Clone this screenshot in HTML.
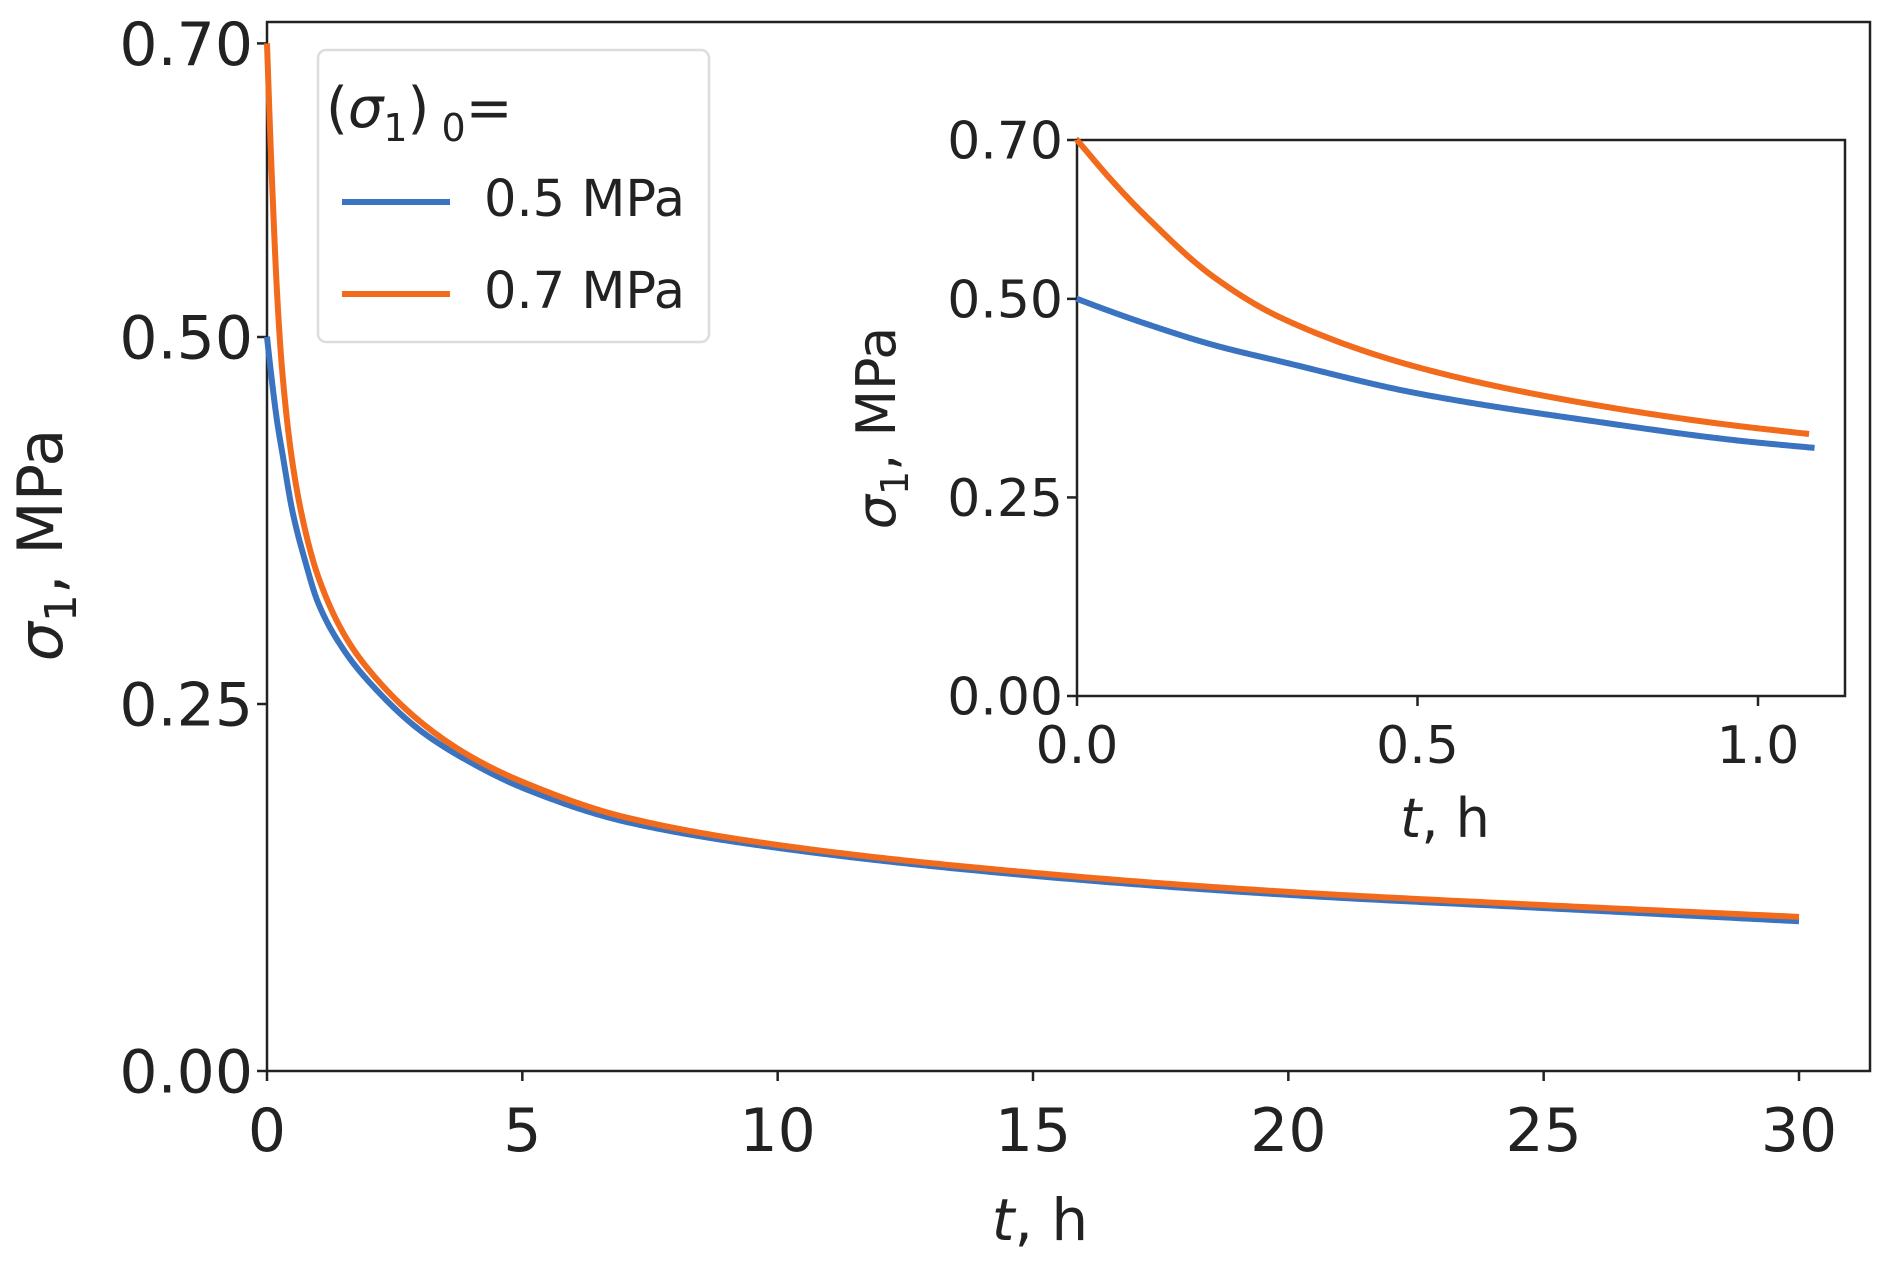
<!DOCTYPE html>
<html><head><meta charset="utf-8"><style>
html,body{margin:0;padding:0;background:#fff;}
svg text{font-family:"DejaVu Sans","Liberation Sans",sans-serif;fill:#222;}
</style></head><body>
<svg id="chart" width="1892" height="1272" viewBox="0 0 1892 1272" xmlns="http://www.w3.org/2000/svg">
<g id="main"></g>
<g id="inset"></g>
<g id="legend">
 <rect x="318" y="50" width="391" height="292" rx="8" fill="#fff" stroke="#ddd" stroke-width="2.5"/>
 <text x="326" y="127" font-size="56">(<tspan font-style="italic">σ</tspan><tspan font-size="38" dy="14">1</tspan><tspan dy="-14">)</tspan><tspan font-size="38" dy="14"> 0</tspan><tspan dy="-14">=</tspan></text>
 <line x1="342" y1="202" x2="450" y2="202" stroke="#3a73c0" stroke-width="6"/>
 <text x="484" y="216" font-size="51">0.5 MPa</text>
 <line x1="342" y1="294" x2="450" y2="294" stroke="#f26a1b" stroke-width="6"/>
 <text x="484" y="308" font-size="51">0.7 MPa</text>
</g>
</svg>
<script>
const tMain=[0,0.05,0.1,0.2,0.3,0.5,0.75,1,1.5,2,3,4,5,7,10,15,20,25,30];
const blue=[0.5,0.484,0.469,0.442,0.421,0.381,0.347,0.319,0.287,0.265,0.232,0.21,0.193,0.17,0.152,0.133,0.12,0.111,0.102];
const orange=[0.7,0.65,0.605,0.528,0.476,0.414,0.368,0.337,0.298,0.273,0.238,0.214,0.197,0.173,0.154,0.135,0.122,0.113,0.105];
const yTicks=[0,0.25,0.5,0.7];
const yTickLabels=["0.00","0.25","0.50","0.70"];
const xTicksMain=[0,5,10,15,20,25,30];
const xTicksInset=[0,0.5,1.0];
const xTickLabelsInset=["0.0","0.5","1.0"];
const insetEnd=[1.083,1.075];

const NS="http://www.w3.org/2000/svg";
function mk(tag,attrs,parent){const e=document.createElementNS(NS,tag);for(const k in attrs)e.setAttribute(k,attrs[k]);parent.appendChild(e);return e;}
function slopes(xs,ys){const n=xs.length,d=[],m=new Array(n);for(let i=0;i<n-1;i++)d.push((ys[i+1]-ys[i])/(xs[i+1]-xs[i]));m[0]=d[0];m[n-1]=d[n-2];for(let i=1;i<n-1;i++){if(d[i-1]*d[i]<=0)m[i]=0;else{const h0=xs[i]-xs[i-1],h1=xs[i+1]-xs[i];const w1=2*h1+h0,w2=h1+2*h0;m[i]=(w1+w2)/(w1/d[i-1]+w2/d[i]);}}return m;}
function interp(ts,vs,ms,t){for(let i=1;i<ts.length;i++){if(t<=ts[i]){const h=ts[i]-ts[i-1],s=(t-ts[i-1])/h;const h00=2*s*s*s-3*s*s+1,h10=s*s*s-2*s*s+s,h01=-2*s*s*s+3*s*s,h11=s*s*s-s*s;return h00*vs[i-1]+h10*h*ms[i-1]+h01*vs[i]+h11*h*ms[i];}}return vs[vs.length-1];}

function drawAxes(g,box,xTicks,xLabels,tickFont,labelDy,name){
 const X=v=>box.l+v/box.xr*box.xpx;
 const Y=v=>box.b-v/box.yr*box.ypx;
 const f=mk('rect',{x:box.l,y:box.t,width:box.r-box.l,height:box.b-box.t,fill:'none',stroke:'#222',"stroke-width":2.5},g);
 
 
 xTicks.forEach((v,i)=>{
  const l=mk('line',{x1:X(v),x2:X(v),y1:box.b,y2:box.b+10,stroke:'#222',"stroke-width":2.5},g);
  
  
  const t=mk('text',{x:X(v),y:box.b+labelDy,"font-size":tickFont,"text-anchor":"middle"},g);
  t.textContent=xLabels[i];
  
  
 });
 yTicks.forEach((v,i)=>{
  const l=mk('line',{x1:box.l-10,x2:box.l,y1:Y(v),y2:Y(v),stroke:'#222',"stroke-width":2.5},g);
  
  
  const t=mk('text',{x:box.l-14,y:Y(v)+tickFont*0.36,"font-size":tickFont,"text-anchor":"end"},g);
  t.textContent=yTickLabels[i];
  
  
 });
 return {X,Y};
}
function curve(g,ax,vals,tEnd,color,name){
 const ms=slopes(tMain,vals);
 let d='';const N=600;
 for(let i=0;i<=N;i++){const t=tEnd*Math.pow(i/N,2.5);const v=interp(tMain,vals,ms,t);d+=(i?'L':'M')+ax.X(t).toFixed(2)+','+ax.Y(v).toFixed(2);}
 const p=mk('path',{d:d,fill:'none',stroke:color,"stroke-width":6,"stroke-linejoin":"round"},g);
 
 
}
const gm=document.getElementById('main');
const am=drawAxes(gm,{l:267,r:1870,t:22,b:1071,xr:30,xpx:1532,yr:1,ypx:1468},xTicksMain,xTicksMain.map(String),60,80,'main');
curve(gm,am,blue,30,'#3a73c0','series-0-5-mpa');
curve(gm,am,orange,30,'#f26a1b','series-0-7-mpa');
let t=mk('text',{x:1040,y:1240,"font-size":58,"text-anchor":"middle"},gm);
t.innerHTML='<tspan font-style="italic">t</tspan>, h';


t=mk('text',{transform:'translate(62,545) rotate(-90)',"font-size":62,"text-anchor":"middle"},gm);
t.innerHTML='<tspan font-style="italic">σ</tspan><tspan font-size="44" dy="14">1</tspan><tspan dy="-14">,  MPa</tspan>';



const gi=document.getElementById('inset');
const ai=drawAxes(gi,{l:1077,r:1845,t:140,b:696,xr:1,xpx:681,yr:0.7,ypx:556},xTicksInset,xTickLabelsInset,52,67,'inset');
curve(gi,ai,blue,insetEnd[0],'#3a73c0','inset-series-0-5-mpa');
curve(gi,ai,orange,insetEnd[1],'#f26a1b','inset-series-0-7-mpa');
t=mk('text',{x:1445,y:837,"font-size":54,"text-anchor":"middle"},gi);
t.innerHTML='<tspan font-style="italic">t</tspan>, h';


t=mk('text',{transform:'translate(895,428) rotate(-90)',"font-size":54,"text-anchor":"middle"},gi);
t.innerHTML='<tspan font-style="italic">σ</tspan><tspan font-size="38" dy="13">1</tspan><tspan dy="-13">, MPa</tspan>';


</script>
</body></html>
